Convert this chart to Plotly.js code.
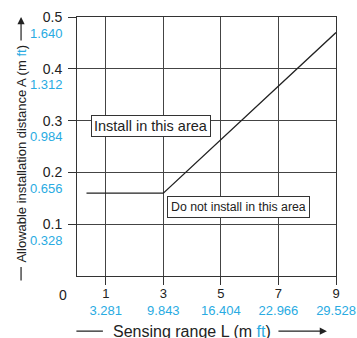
<!DOCTYPE html>
<html>
<head>
<meta charset="utf-8">
<script src="https://cdn.plot.ly/plotly-3.0.1.min.js"></script>
<style>html,body{margin:0;padding:0;background:#fff;}#chart{width:357px;height:338px;}</style>
</head>
<body>
<div id="chart"></div>
<script>
// Data
const rangeM = [0.33, 3, 9];
const distanceM = [0.16, 0.16, 0.47];
const xTickVals = [1, 3, 5, 7, 9];
const xTickFt = ['3.281', '9.843', '16.404', '22.966', '29.528'];
const yTickVals = [0.1, 0.2, 0.3, 0.4, 0.5];
const yTickText = ['0.1', '0.2', '0.3', '0.4', '0.5'];
const yTickFt = ['0.328', '0.656', '0.984', '1.312', '1.640'];
const areaLabels = ['Install in this area', 'Do not install in this area'];
const areaPos = [[2.57, 0.2905], [5.62, 0.133]];

const BLUE = '#29abe2';
const FONT = 'Liberation Sans, Arial, sans-serif';

const xText = xTickVals.map((v, i) => v + '<br><span style="color:' + BLUE + '">' + xTickFt[i] + '</span>');

const trace = {
  x: rangeM, y: distanceM, type: 'scatter', mode: 'lines',
  line: {color: '#222', width: 1.3}, hoverinfo: 'skip'
};

const annotations = [
  {xref: 'x', yref: 'y', x: areaPos[0][0], y: areaPos[0][1], text: areaLabels[0], showarrow: false,
   font: {family: FONT, size: 14.5, color: '#222'}, bgcolor: '#fff', bordercolor: '#333', borderwidth: 1, borderpad: 2},
  {xref: 'x', yref: 'y', x: areaPos[1][0], y: areaPos[1][1], text: areaLabels[1], showarrow: false,
   font: {family: FONT, size: 12.3, color: '#222'}, bgcolor: '#fff', bordercolor: '#333', borderwidth: 1, borderpad: 3},
  {xref: 'paper', yref: 'paper', x: -0.054, y: -0.073, xanchor: 'center', yanchor: 'middle', text: '0', showarrow: false,
   font: {family: FONT, size: 14, color: '#222'}},
  {xref: 'paper', yref: 'paper', x: 0.444, y: -0.213, xanchor: 'center', yanchor: 'middle',
   text: 'Sensing range L (m <span style="color:' + BLUE + '">ft</span>)', showarrow: false,
   font: {family: FONT, size: 16, color: '#222'}},
  {xref: 'paper', yref: 'paper', x: -0.216, y: 0.473, xanchor: 'center', yanchor: 'middle',
   text: 'Allowable installation distance A (m <span style="color:' + BLUE + '">ft</span>)', showarrow: false,
   textangle: -90, font: {family: FONT, size: 13, color: '#222'}},
  // arrows / lines
  {xref: 'paper', yref: 'paper', x: 0.965, y: -0.213, ax: -50, ay: 0, text: '', showarrow: true, arrowhead: 2, arrowsize: 1.2, arrowwidth: 1.2, arrowcolor: '#222'},
  {xref: 'paper', yref: 'paper', x: 0.100, y: -0.213, ax: -28, ay: 0, text: '', showarrow: true, arrowhead: 0, arrowwidth: 1.2, arrowcolor: '#222'},
  {xref: 'paper', yref: 'paper', x: -0.216, y: 1.0, ax: 0, ay: 25, text: '', showarrow: true, arrowhead: 2, arrowsize: 1.2, arrowwidth: 1.2, arrowcolor: '#222'},
  {xref: 'paper', yref: 'paper', x: -0.216, y: 0.035, ax: 0, ay: 15, text: '', showarrow: true, arrowhead: 0, arrowwidth: 1.2, arrowcolor: '#222'}
].concat(yTickVals.map((v, i) => ({
  xref: 'paper', yref: 'y', x: -0.054, y: v, yshift: -16, xshift: 2, xanchor: 'right', yanchor: 'middle',
  text: yTickFt[i], showarrow: false, font: {family: FONT, size: 13, color: BLUE}
})));

const layout = {
  width: 357, height: 338,
  margin: {l: 77, r: 21, t: 17, b: 62, pad: 0},
  paper_bgcolor: '#fff', plot_bgcolor: '#fff',
  showlegend: false,
  font: {family: FONT, size: 13, color: '#222'},
  xaxis: {
    range: [0, 9], tickmode: 'array', tickvals: xTickVals, ticktext: xText,
    ticks: 'outside', ticklen: 8, tickcolor: '#333', tickwidth: 1, ticklabelstandoff: -3,
    showgrid: true, gridcolor: '#444', gridwidth: 1,
    showline: true, linecolor: '#333', linewidth: 1, mirror: true,
    zeroline: false, fixedrange: true,
    tickfont: {family: FONT, size: 13, color: '#222'}
  },
  yaxis: {
    range: [0, 0.5], tickmode: 'array', tickvals: yTickVals, ticktext: yTickText,
    ticks: 'outside', ticklen: 8, tickcolor: '#333', tickwidth: 1, ticklabelstandoff: 3,
    showgrid: true, gridcolor: '#444', gridwidth: 1,
    showline: true, linecolor: '#333', linewidth: 1, mirror: true,
    zeroline: false, fixedrange: true,
    tickfont: {family: FONT, size: 14, color: '#222'}
  },
  annotations: annotations
};

Plotly.newPlot('chart', [trace], layout, {staticPlot: true, displayModeBar: false});
</script>
</body>
</html>
